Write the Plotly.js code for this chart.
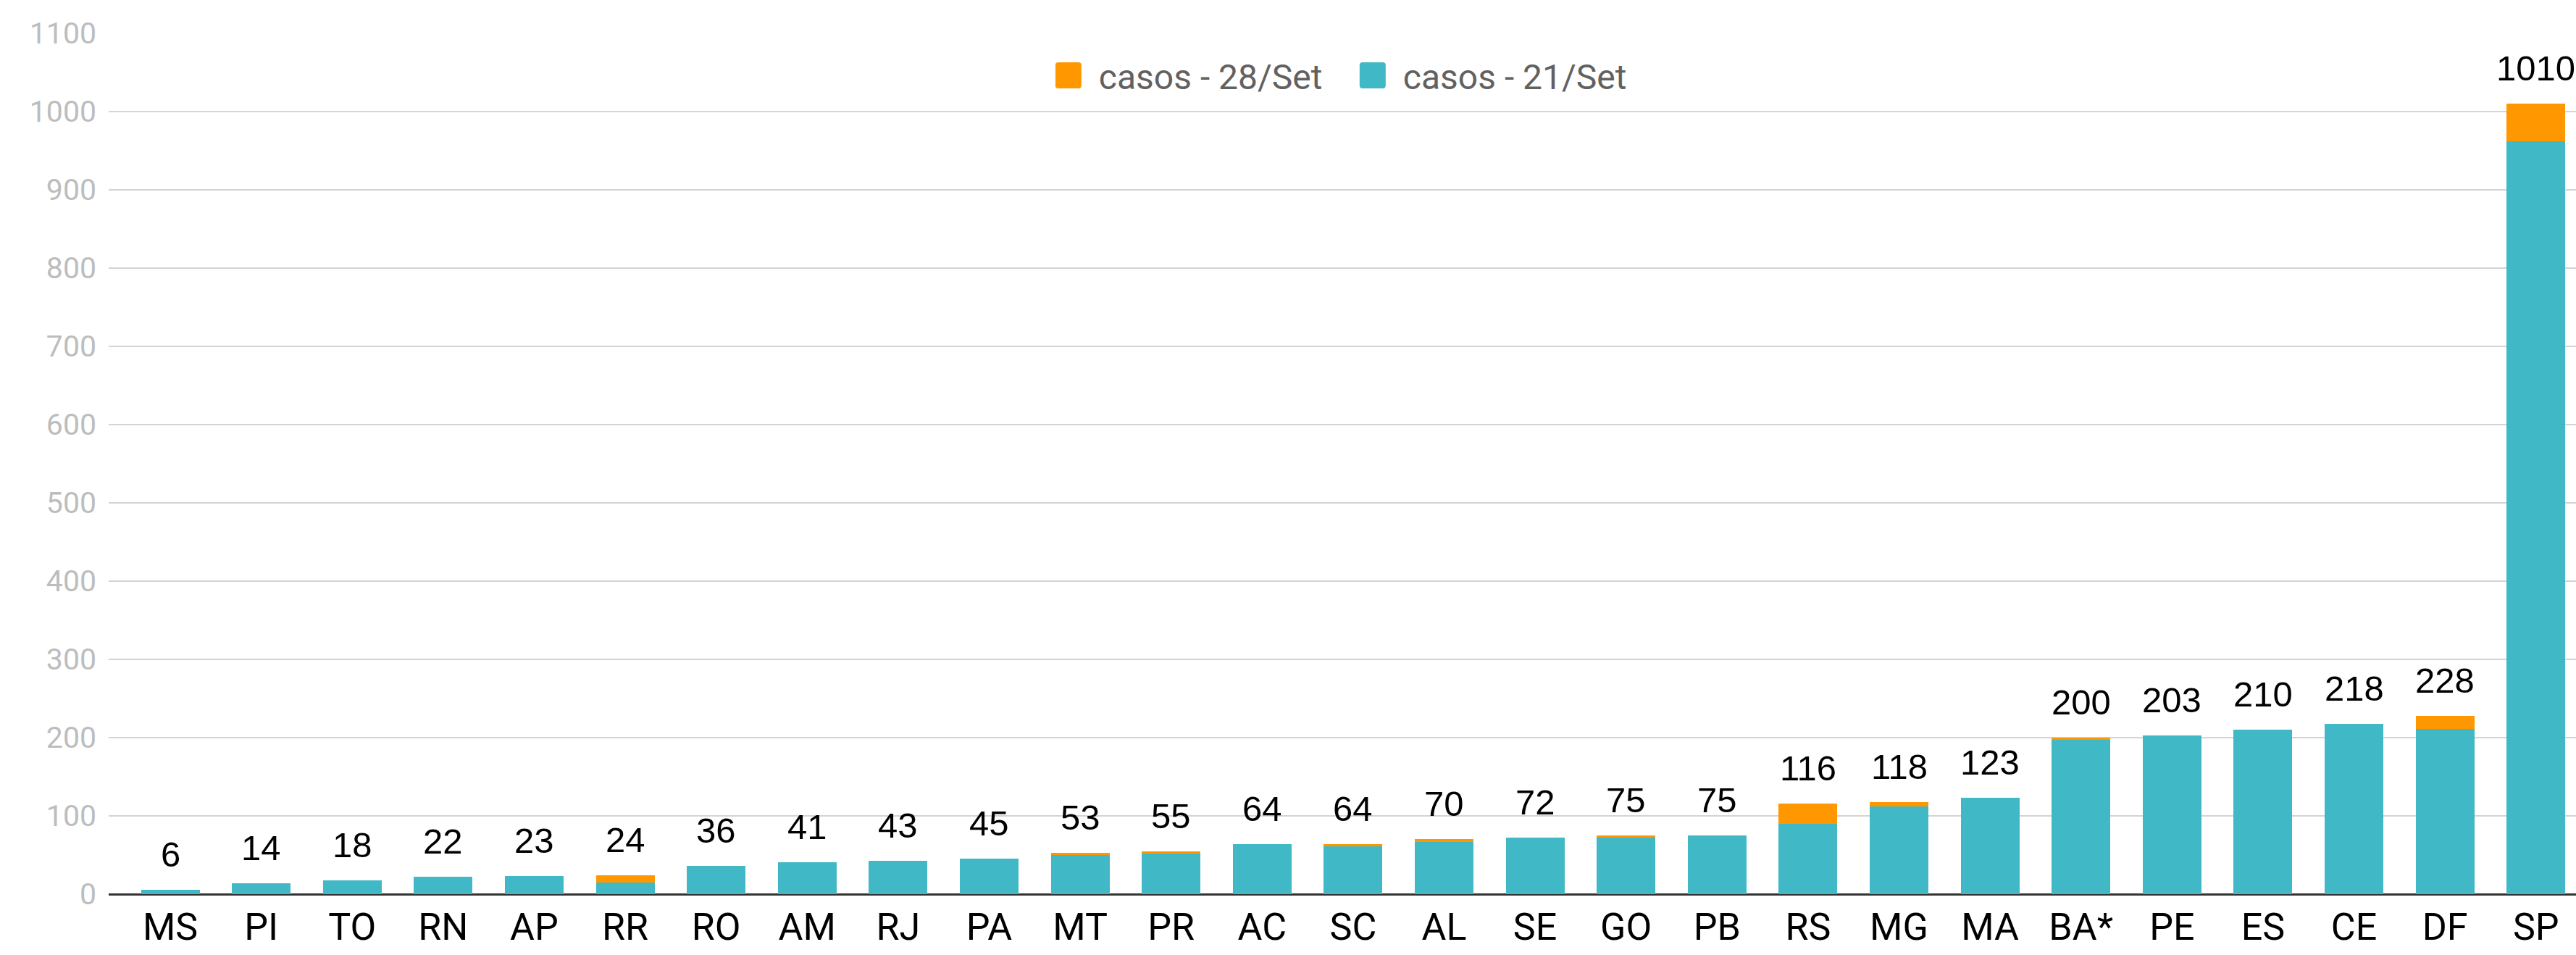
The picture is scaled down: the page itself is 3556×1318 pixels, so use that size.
<!DOCTYPE html>
<html>
<head>
<meta charset="utf-8">
<script src="https://cdn.plot.ly/plotly-3.0.1.min.js"></script>
<style>
  html, body { margin: 0; padding: 0; background: #ffffff; }
  #chart { width: 3556px; height: 1318px; }
</style>
</head>
<body>
<div id="chart"></div>
<script>
// Brazilian states (UF)
const categories = ["MS","PI","TO","RN","AP","RR","RO","AM","RJ","PA","MT","PR","AC","SC","AL","SE","GO","PB","RS","MG","MA","BA*","PE","ES","CE","DF","SP"];
// cases on 21/Set (teal, bottom segment)
const casos21 = [6,14,18,22,23,15,36,41,43,45,50,52,64,61,67,72,72,75,90,112,123,197,203,210,218,211,962];
// cases on 28/Set (total, labelled above each bar)
const casos28 = [6,14,18,22,23,24,36,41,43,45,53,55,64,64,70,72,75,75,116,118,123,200,203,210,218,228,1010];
// y-axis ticks
const yTicks = [0,100,200,300,400,500,600,700,800,900,1000,1100];

const increment = casos28.map((v, i) => v - casos21[i]);

const teal = '#40b8c6';
const orange = '#ff9800';

const traces = [
  {
    type: 'bar',
    name: 'casos - 21/Set',
    x: categories,
    y: casos21,
    marker: { color: teal },
    hoverinfo: 'x+y'
  },
  {
    type: 'bar',
    name: 'casos - 28/Set',
    x: categories,
    y: increment,
    marker: { color: orange },
    hoverinfo: 'x+y'
  }
];

const annotations = categories.map((c, i) => ({
  x: c,
  y: casos28[i],
  xref: 'x',
  yref: 'y',
  text: String(casos28[i]),
  showarrow: false,
  yanchor: 'bottom',
  xanchor: 'center',
  yshift: 20,
  font: { family: 'Liberation Sans, Arial, sans-serif', size: 49, color: '#000000' }
}));

const layout = {
  width: 3556,
  height: 1318,
  margin: { l: 150, r: 0, t: 46, b: 84, pad: 0 },
  paper_bgcolor: '#ffffff',
  plot_bgcolor: '#ffffff',
  barmode: 'stack',
  bargap: 0.355,
  showlegend: true,
  legend: {
    orientation: 'h',
    x: 0.507,
    xanchor: 'center',
    y: 0.951,
    yanchor: 'middle',
    traceorder: 'reversed',
    bgcolor: 'rgba(255,255,255,0)',
    font: { family: 'Roboto, sans-serif', size: 48, color: '#616161' },
    itemwidth: 30,
    entrywidth: 375,
    entrywidthmode: 'pixels'
  },
  xaxis: {
    type: 'category',
    range: [-0.677, 26.44],
    showgrid: false,
    showline: false,
    ticks: '',
    tickfont: { family: 'Roboto, sans-serif', size: 52, color: '#000000' },
    ticklabelstandoff: 10,
    fixedrange: true
  },
  yaxis: {
    range: [0, 1100],
    tickvals: yTicks,
    ticktext: yTicks.map(String),
    showgrid: true,
    gridcolor: '#d4d4d4',
    gridwidth: 2,
    zeroline: true,
    zerolinecolor: '#333333',
    zerolinewidth: 3,
    showline: false,
    ticks: '',
    tickfont: { family: 'Roboto, sans-serif', size: 41, color: '#bdbdbd' },
    ticklabelstandoff: 16,
    fixedrange: true
  },
  annotations: annotations
};

Plotly.newPlot('chart', traces, layout, { displayModeBar: false, staticPlot: true }).then(() => {
  // enlarge the legend swatches to the reference's rounded square keys
  document.querySelectorAll('#chart .legend .legendpoints path').forEach(p => {
    p.setAttribute('d', 'M-16,-18H12Q16,-18 16,-14V14Q16,18 12,18H-16Q-20,18 -20,14V-14Q-20,-18 -16,-18Z');
  });
  // leave a wider gap between each key and its text
  document.querySelectorAll('#chart .legend text.legendtext').forEach(t => {
    const x = parseFloat(t.getAttribute('x') || '0');
    t.setAttribute('x', String(x + 20));
  });
});
</script>
</body>
</html>
